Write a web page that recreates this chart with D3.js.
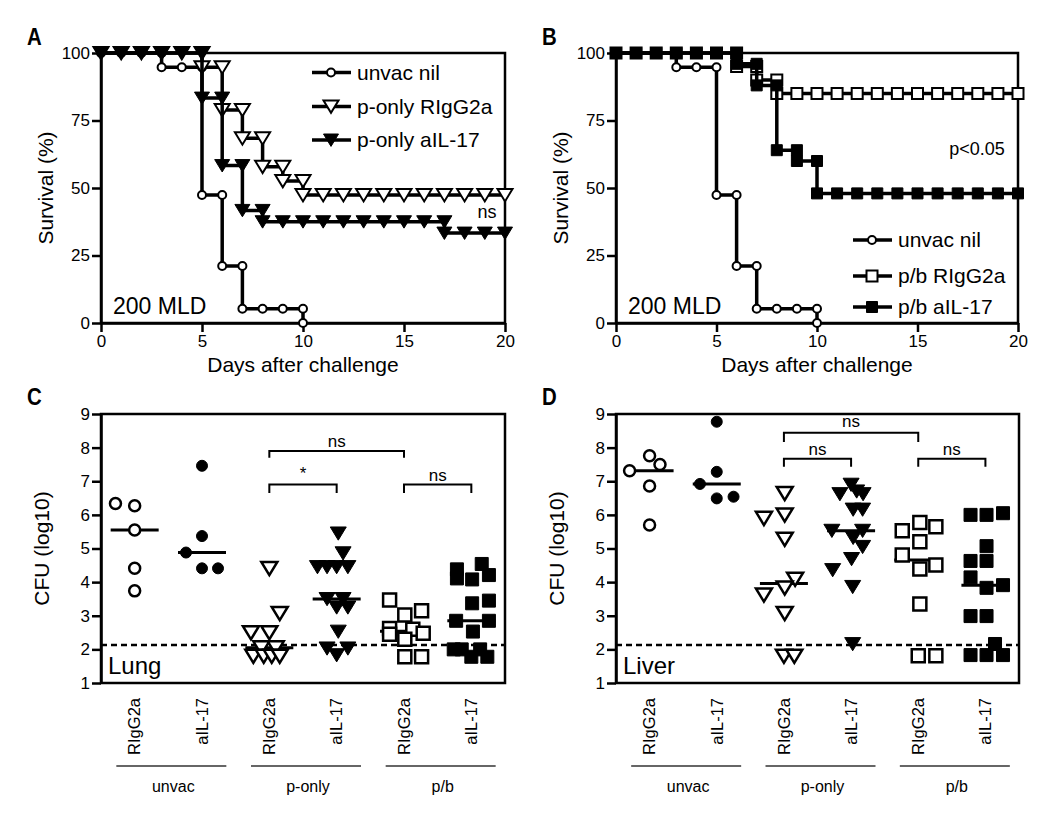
<!DOCTYPE html>
<html>
<head>
<meta charset="utf-8">
<script src="https://cdn.jsdelivr.net/npm/d3@7"></script>
<style>
body{margin:0;background:#fff;}
svg{font-family:"Liberation Sans",Arial,Helvetica,sans-serif;}
</style>
</head>
<body>
<svg></svg>
<script>
// ---- Survival data: [day, percent surviving] ----
var unvacNil=[[0,100],[1,100],[2,100],[3,100],[3,94.7],[4,94.7],[5,94.7],[5,47.4],[6,47.4],[6,21.1],[7,21.1],[7,5.3],[8,5.3],[9,5.3],[10,5.3],[10,0]];
var pOnlyRIgG2a=[[0,100],[1,100],[2,100],[3,100],[4,100],[5,100],[5,94.7],[6,94.7],[6,78.9],[7,78.9],[7,68.4],[8,68.4],[8,57.9],[9,57.9],[9,52.6],[10,52.6],[10,47.4],[11,47.4],[12,47.4],[13,47.4],[14,47.4],[15,47.4],[16,47.4],[17,47.4],[18,47.4],[19,47.4],[20,47.4]];
var pOnlyAIL17=[[0,100],[1,100],[2,100],[3,100],[4,100],[5,100],[5,83.3],[6,83.3],[6,58.3],[7,58.3],[7,41.7],[8,41.7],[8,37.5],[9,37.5],[10,37.5],[11,37.5],[12,37.5],[13,37.5],[14,37.5],[15,37.5],[16,37.5],[17,37.5],[17,33.3],[18,33.3],[19,33.3],[20,33.3]];
var pbRIgG2a=[[0,100],[1,100],[2,100],[3,100],[4,100],[5,100],[6,100],[6,95],[7,95],[7,90],[8,90],[8,85],[9,85],[10,85],[11,85],[12,85],[13,85],[14,85],[15,85],[16,85],[17,85],[18,85],[19,85],[20,85]];
var pbAIL17=[[0,100],[1,100],[2,100],[3,100],[4,100],[5,100],[6,100],[6,96],[7,96],[7,88],[8,88],[8,64],[9,64],[9,60],[10,60],[10,48],[11,48],[12,48],[13,48],[14,48],[15,48],[16,48],[17,48],[18,48],[19,48],[20,48]];

var dayTicks=[0,5,10,15,20];
var survTicks=[0,25,50,75,100];

// ---- CFU data (log10), with side-by-side jitter slot of each point ----
var categories=["RIgG2a","aIL-17","RIgG2a","aIL-17","RIgG2a","aIL-17"];
var groups=["unvac","p-only","p/b"];
var cfuTicks=[1,2,3,4,5,6,7,8,9];
var detectionLimit=2.13;

var lungUnvacRIgG2a=[6.34,6.27,5.55,4.41,3.74];
var lungUnvacAIL17=[7.46,5.37,4.88,4.41,4.41];
var lungPonlyRIgG2a=[4.41,3.07,2.5,2.5,2.05,2.05,1.8,1.8,1.8,1.8];
var lungPonlyAIL17=[5.45,4.86,4.45,4.45,4.45,4.45,3.5,3.5,3.25,3.25,2.53,2.03,1.83,2.03];
var lungPbRIgG2a=[3.47,3.15,3.02,2.62,2.45,2.6,2.48,2.3,1.78,1.78];
var lungPbAIL17=[4.38,4.11,4.08,4.54,4.21,3.37,3.45,2.85,2.85,2.53,2.0,2.0,1.78,2.0,1.78];

var lungUnvacRIgG2aJitter=[-1.2,0,0,0,0];
var lungUnvacAIL17Jitter=[0,0,-1,0,1];
var lungPonlyRIgG2aJitter=[0,0.65,-1.15,0,-0.5,0.4,-1,-0.35,0.15,0.65];
var lungPonlyAIL17Jitter=[0.1,0.4,-1.2,-0.6,0,0.7,-0.6,0.4,0,0.7,0.1,-0.6,0,0.7];
var lungPbRIgG2aJitter=[-0.9,1.1,0.05,-0.9,-0.9,0.55,1.2,0.05,0.05,1.1];
var lungPbAIL17Jitter=[-0.9,-0.9,0.05,0.65,1.1,0.05,1.1,-0.95,1.1,0.1,-1.1,-0.6,0,0.55,1.0];

var liverUnvacRIgG2a=[7.76,7.5,7.31,6.86,5.70];
var liverUnvacAIL17=[8.77,7.28,6.92,6.49,6.54];
var liverPonlyRIgG2a=[6.64,5.9,6.0,5.28,4.09,3.83,3.62,3.07,1.8,1.8];
var liverPonlyAIL17=[6.62,6.9,6.7,6.62,6.16,6.16,5.53,5.32,5.53,5.05,4.69,4.36,3.86,2.16];
var liverPbRIgG2a=[5.77,5.53,5.65,5.2,4.81,4.51,4.39,3.35,1.81,1.81];
var liverPbAIL17=[6.0,6.0,6.05,5.07,4.63,4.63,4.14,3.83,3.91,2.99,2.99,2.16,1.83,1.83,1.83];

var liverUnvacRIgG2aJitter=[0,0.65,-1.25,0,0];
var liverUnvacAIL17Jitter=[0,0,-1.05,0,1.05];
var liverPonlyRIgG2aJitter=[0.05,-1.25,0.05,0.05,0.7,0.05,-1.25,0.05,0,0.65];
var liverPonlyAIL17Jitter=[-0.7,0,0.35,0.75,0.13,0.72,-1.2,0.13,0.72,0.72,0.03,-1.15,0.1,0.1];
var liverPbRIgG2aJitter=[0.1,-1,1.1,0.1,-1,1.1,0.1,0.1,0,1.1];
var liverPbAIL17Jitter=[-0.93,0.07,1.1,0.07,-0.93,0.07,-0.93,0.07,1.1,-0.93,0.07,0.6,-0.93,0.07,1.1];

// significance brackets: [from category, to category, bar level, leg end, label]
var lungBrackets=[[2,4,7.9,7.7,"ns"],[2,3,6.9,6.65,"*"],[4,5,6.9,6.65,"ns"]];
var liverBrackets=[[2,4,8.44,8.17,"ns"],[2,3,7.67,7.43,"ns"],[4,5,7.67,7.43,"ns"]];


var width=1050, height=823;
var svg=d3.select("svg").attr("width",width).attr("height",height);

// marker outline centred on 0,0
function markerPath(shape,size){
  var h=size/2;
  if(shape=="circle") return "M"+h+",0A"+h+","+h+" 0 1,1 "+(-h)+",0A"+h+","+h+" 0 1,1 "+h+",0Z";
  if(shape=="square") return "M"+(-h)+","+(-h)+"H"+h+"V"+h+"H"+(-h)+"Z";
  return "M"+(-h)+","+(-h*0.8)+"H"+h+"L0,"+(h*0.85)+"Z";
}

function drawMarker(g,x,y,shape,filled,size,sw){
  g.append("path")
    .attr("d",markerPath(shape,size))
    .attr("transform","translate("+x+","+y+")")
    .attr("fill",filled?"#000":"#fff")
    .attr("stroke","#000")
    .attr("stroke-width",filled?1:sw)
    .attr("stroke-linejoin","miter");
}

function styleAxis(a){
  a.selectAll("path,line").attr("stroke","#000").attr("stroke-width",2.5);
  a.selectAll("text").attr("fill","#000").style("font-size","17px");
}

function panelLetter(x,y,t){
  svg.append("text").attr("transform","translate("+x+","+y+") scale(0.85,1)")
    .style("font-family","'Liberation Sans Narrow','Arial Narrow','Liberation Sans',sans-serif")
    .style("font-weight","bold").style("font-size","24px").text(t);
}

// ---- Survival panels ----
function survivalPanel(left,right,series,legendX,legendY,note,noteX,noteY){
  var top=53, bottom=323;
  var x=d3.scaleLinear().domain([0,20]).range([left,right]);
  var y=d3.scaleLinear().domain([0,100]).range([bottom,top]);
  var g=svg.append("g");

  g.append("rect").attr("x",left).attr("y",top)
    .attr("width",right-left).attr("height",bottom-top)
    .attr("fill","none").attr("stroke","#000").attr("stroke-width",2.5);

  g.append("g").attr("transform","translate(0,"+bottom+")")
    .call(d3.axisBottom(x).tickValues(dayTicks).tickSize(9).tickPadding(3).tickSizeOuter(0))
    .call(styleAxis);
  g.append("g").attr("transform","translate("+left+",0)")
    .call(d3.axisLeft(y).tickValues(survTicks).tickSize(9).tickPadding(2).tickSizeOuter(0))
    .call(styleAxis);

  var line=d3.line().x(d=>x(d[0])).y(d=>y(d[1])).curve(d3.curveStepAfter);

  series.forEach(function(s){
    g.append("path").attr("d",line(s.data))
      .attr("fill","none").attr("stroke","#000").attr("stroke-width",3.5);
    s.data.forEach(function(d){
      drawMarker(g,x(d[0]),y(d[1]),s.shape,s.filled,s.size,2);
    });
  });

  // legend
  series.forEach(function(s,i){
    var ly=legendY[i];
    g.append("line").attr("x1",legendX).attr("x2",legendX+39).attr("y1",ly).attr("y2",ly)
      .attr("stroke","#000").attr("stroke-width",3.5);
    drawMarker(g,legendX+19,ly,s.shape,s.filled,s.size,2);
    g.append("text").attr("x",legendX+45).attr("y",ly).attr("dy","0.35em")
      .style("font-size","21px").text(s.name);
  });

  g.append("text").attr("x",left+12).attr("y",314).style("font-size","23px").text("200 MLD");
  g.append("text").attr("x",noteX).attr("y",noteY).attr("text-anchor","middle")
    .style("font-size","18px").text(note);

  g.append("text").attr("x",(left+right)/2).attr("y",372).attr("text-anchor","middle")
    .style("font-size","21px").text("Days after challenge");
  g.append("text").attr("transform","translate("+(left-48)+","+((top+bottom)/2)+") rotate(-90)")
    .attr("text-anchor","middle").style("font-size","21px").text("Survival (%)");
}

survivalPanel(101,505,[
  {data:unvacNil,shape:"circle",filled:false,size:8,name:"unvac nil"},
  {data:pOnlyRIgG2a,shape:"tri",filled:false,size:15,name:"p-only RIgG2a"},
  {data:pOnlyAIL17,shape:"tri",filled:true,size:15,name:"p-only aIL-17"}
],312,[72.5,106.5,140],"ns",487,218);

survivalPanel(616,1018,[
  {data:unvacNil,shape:"circle",filled:false,size:8,name:"unvac nil"},
  {data:pbRIgG2a,shape:"square",filled:false,size:11,name:"p/b RIgG2a"},
  {data:pbAIL17,shape:"square",filled:true,size:11,name:"p/b aIL-17"}
],853,[240,276,307],"p<0.05",977,155);

// ---- CFU scatter panels ----
function scatterPanel(left,right,cols,brackets,bracketGap,organ){
  var top=414, bottom=683;
  var x=d3.scaleBand().domain(d3.range(categories.length)).range([left,right]);
  var y=d3.scaleLinear().domain([1,9]).range([bottom,top]);
  var cx=i=>x(i)+x.bandwidth()/2;
  var lane=16;
  var g=svg.append("g");

  g.append("rect").attr("x",left).attr("y",top)
    .attr("width",right-left).attr("height",bottom-top)
    .attr("fill","none").attr("stroke","#000").attr("stroke-width",2.5);
  g.append("g").attr("transform","translate("+left+",0)")
    .call(d3.axisLeft(y).tickValues(cfuTicks).tickSize(9).tickPadding(2).tickSizeOuter(0))
    .call(styleAxis);

  // detection limit
  g.append("line").attr("x1",left).attr("x2",right)
    .attr("y1",y(detectionLimit)).attr("y2",y(detectionLimit))
    .attr("stroke","#000").attr("stroke-width",2.5).attr("stroke-dasharray","6,4");

  cols.forEach(function(c,i){
    var med=d3.median(c.values);
    g.append("line").attr("x1",cx(i)-24).attr("x2",cx(i)+24)
      .attr("y1",y(med)).attr("y2",y(med))
      .attr("stroke","#000").attr("stroke-width",3);
    c.values.forEach(function(v,j){
      drawMarker(g,cx(i)+c.jitter[j]*lane,y(v),c.shape,c.filled,c.size,2.5);
    });
  });

  // brackets
  brackets.forEach(function(b,k){
    var x1=cx(b[0]), x2=cx(b[1]), yb=y(b[2]), yl=y(b[3]);
    g.append("path").attr("d","M"+x1+","+yl+"V"+yb+"H"+x2+"V"+yl)
      .attr("fill","none").attr("stroke","#000").attr("stroke-width",2);
    g.append("text").attr("x",(x1+x2)/2).attr("y",yb-bracketGap[k])
      .attr("text-anchor","middle").style("font-size","17px").text(b[4]);
  });

  // category labels
  categories.forEach(function(c,i){
    g.append("text").attr("transform","translate("+cx(i)+",698) rotate(-90)")
      .attr("text-anchor","end").attr("dy","0.35em")
      .style("font-size","16.5px").text(c);
  });
  groups.forEach(function(gr,i){
    var mid=(cx(2*i)+cx(2*i+1))/2+3;
    g.append("line").attr("x1",mid-55).attr("x2",mid+55).attr("y1",766).attr("y2",766)
      .attr("stroke","#333").attr("stroke-width",1.5);
    g.append("text").attr("x",mid+2).attr("y",792).attr("text-anchor","middle")
      .style("font-size","16px").text(gr);
  });

  g.append("text").attr("x",left+7).attr("y",674).style("font-size","24px").text(organ);
  g.append("text").attr("transform","translate("+(left-52)+","+((top+bottom)/2)+") rotate(-90)")
    .attr("text-anchor","middle").style("font-size","21px").text("CFU (log10)");
}

function cols(v,j){
  var shapes=["circle","circle","tri","tri","square","square"];
  var sizes=[11,11,16,16,13,13];
  return v.map(function(vals,i){
    return {values:vals,jitter:j[i],shape:shapes[i],filled:i%2==1,size:sizes[i]};
  });
}

scatterPanel(101,505,
  cols([lungUnvacRIgG2a,lungUnvacAIL17,lungPonlyRIgG2a,lungPonlyAIL17,lungPbRIgG2a,lungPbAIL17],
       [lungUnvacRIgG2aJitter,lungUnvacAIL17Jitter,lungPonlyRIgG2aJitter,lungPonlyAIL17Jitter,lungPbRIgG2aJitter,lungPbAIL17Jitter]),
  lungBrackets,[4,6,4],"Lung");

scatterPanel(616,1019,
  cols([liverUnvacRIgG2a,liverUnvacAIL17,liverPonlyRIgG2a,liverPonlyAIL17,liverPbRIgG2a,liverPbAIL17],
       [liverUnvacRIgG2aJitter,liverUnvacAIL17Jitter,liverPonlyRIgG2aJitter,liverPonlyAIL17Jitter,liverPbRIgG2aJitter,liverPbAIL17Jitter]),
  liverBrackets,[6,4,4],"Liver");

panelLetter(27,45,"A");
panelLetter(542,45,"B");
panelLetter(27,405,"C");
panelLetter(542,405,"D");
</script>
</body>
</html>
